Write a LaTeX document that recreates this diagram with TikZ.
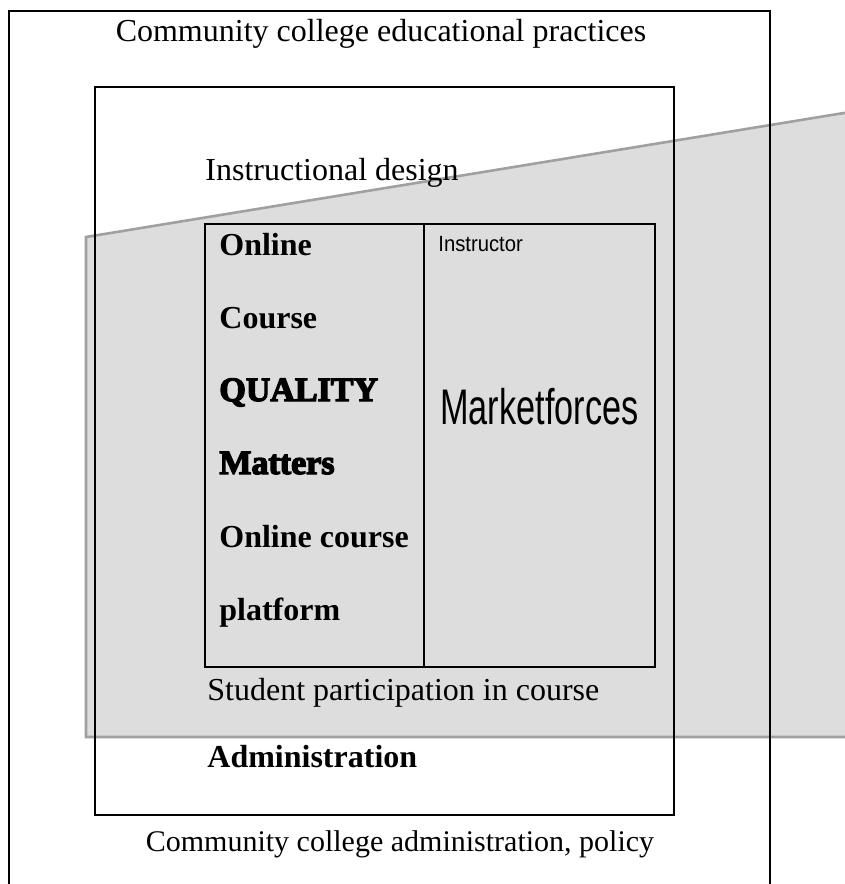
\documentclass[tikz,border=0pt]{standalone}
\usepackage{fontspec}
\setmainfont{Liberation Serif}
\newfontfamily\agencyfont{Liberation Sans}
\newfontfamily\cooperfont{Liberation Serif}[BoldFeatures={FakeBold=4}]

\definecolor{bandfill}{HTML}{DDDDDD}
\definecolor{bandline}{HTML}{A0A0A0}

\tikzset{
  txt/.style={inner sep=0pt, anchor=base west, font=\fontsize{16}{19}\selectfont},
  txtbold/.style={txt, font=\fontsize{16}{19}\selectfont\bfseries},
  quality/.style={txt, font=\fontsize{17}{20}\selectfont\cooperfont\bfseries},
  agency/.style={txt, font=\agencyfont},
}

\begin{document}
\begin{tikzpicture}[x=0.5pt,y=-0.5pt]

%%%%%%%%%%%%%%%%%%%%%%
%%%	  Géométrie     %%%
%%%%%%%%%%%%%%%%%%%%%%

\def \outL{9}
\def \outT{11}
\def \outR{770}
\def \outB{900}
\def \midL{95}
\def \midT{87}
\def \midR{674}
\def \midB{815}
\def \tabL{205}
\def \tabT{224}
\def \tabM{424}
\def \tabR{655}
\def \tabB{667}
\def \bandL{86}
\def \bandT{237}
\def \bandR{850}
\def \bandTR{112}
\def \bandB{737}
\def \colx{219}
\def \pas{73}

%%%%%%%%%%%%%%%%%%%%%%
%%%	    Style       %%%
%%%%%%%%%%%%%%%%%%%%%%

\def \heavy{1.2pt}
\def \light{1.3pt}

\useasboundingbox (0,0) rectangle (845,884);

%%%%%%%%%%%%%%%%%%%%%%
%%%	    Dessin      %%%
%%%%%%%%%%%%%%%%%%%%%%

% bande grise en biais
\draw[line width=\light, draw=bandline, fill=bandfill] (\bandL,\bandB) -- (\bandL,\bandT) -- (\bandR,\bandTR) -- (\bandR,\bandB) -- cycle;

% cadres
\draw[line width=\heavy] (\outL,\outB) -- (\outL,\outT) -- (\outR,\outT) -- (\outR,\outB);
\draw[line width=\heavy] (\midL,\midT) rectangle (\midR,\midB);
\draw[line width=\heavy] (\tabL,\tabT) rectangle (\tabR,\tabB);
\draw[line width=\heavy] (\tabM,\tabT) -- (\tabM,\tabB);

%%%%%%%%%%%%%%%%%%%%%%
%%%	    Textes      %%%
%%%%%%%%%%%%%%%%%%%%%%

\node[txt, anchor=base] (pratiques) at (381,41) {Community college educational practices};
\node[txt] (design) at (205,180) {Instructional design};

% colonne de gauche
\node[txtbold] (online) at (\colx,255) {Online};
\node[txtbold] (course) at (\colx,255+\pas) {Course};
\node[quality] (qualite) at (\colx,255+2*\pas) {QUALITY};
\node[quality] (matters) at (\colx,255+3*\pas) {Matters};
\node[txtbold] (plateforme1) at (\colx,255+4*\pas) {Online course};
\node[txtbold] (plateforme2) at (\colx,255+5*\pas) {platform};

% colonne de droite
\node[agency] (instructeur) at (438,251) {\scalebox{0.92}[1]{\fontsize{11}{13}\selectfont Instructor}};
\node[agency] (marche) at (440,424) {\scalebox{0.685}[1]{\fontsize{25}{30}\selectfont Marketforces}};

\node[txt] (etudiant) at (207,700) {Student participation in course};
\node[txtbold] (admin) at (207,767) {Administration};
\node[txt, anchor=base, font=\fontsize{15}{18}\selectfont] (politique) at (400,851) {Community college administration, policy};

%%%%%%%%%%%%%%%%%%%%%%%%%%%%%%%%%%%%%%%%%

\end{tikzpicture}
\end{document}
